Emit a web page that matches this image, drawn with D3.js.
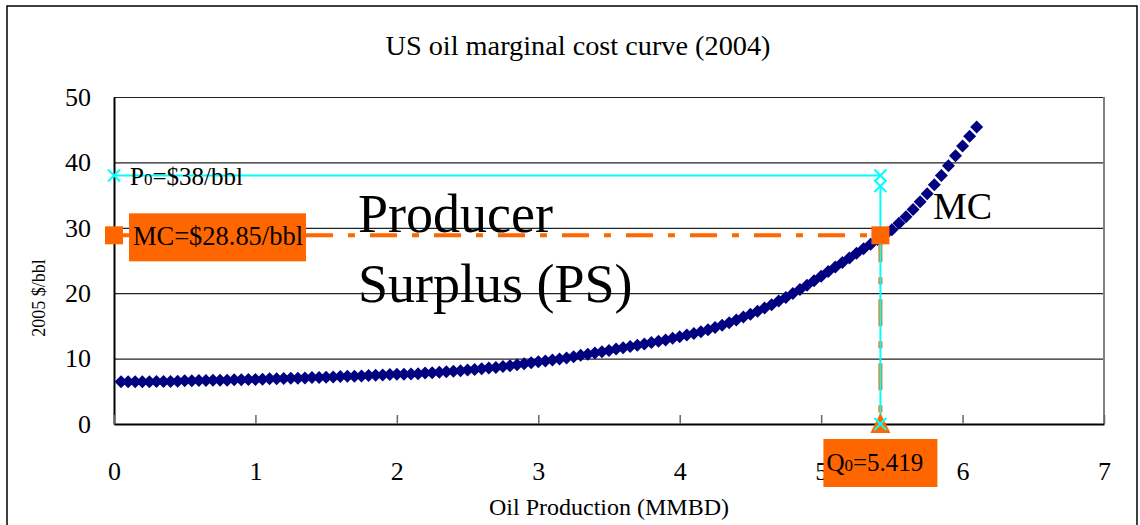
<!DOCTYPE html>
<html lang="en">
<head>
<meta charset="utf-8">
<title>US oil marginal cost curve</title>
<script src="https://d3js.org/d3.v7.min.js"></script>
<style>
  body { margin: 0; background: #fff; }
  text { font-family: "Liberation Serif", "Times New Roman", serif; fill: #000; }
</style>
</head>
<body>
<div id="chart"></div>
<script type="text/javascript">
	// MC curve
	var mcX = [0.05,0.10,0.15,0.20,0.25,0.30,0.35,0.40,0.45,0.50,
		0.55,0.60,0.65,0.70,0.75,0.80,0.85,0.90,0.95,1.00,
		1.05,1.10,1.15,1.20,1.25,1.30,1.35,1.40,1.45,1.50,
		1.55,1.60,1.65,1.70,1.75,1.80,1.85,1.90,1.95,2.00,
		2.05,2.10,2.15,2.20,2.25,2.30,2.35,2.40,2.45,2.50,
		2.55,2.60,2.65,2.70,2.75,2.80,2.85,2.90,2.95,3.00,
		3.05,3.10,3.15,3.20,3.25,3.30,3.35,3.40,3.45,3.50,
		3.55,3.60,3.65,3.70,3.75,3.80,3.85,3.90,3.95,4.00,
		4.05,4.10,4.15,4.20,4.25,4.30,4.35,4.40,4.45,4.50,
		4.55,4.60,4.65,4.70,4.75,4.80,4.85,4.90,4.95,5.00,
		5.05,5.10,5.15,5.20,5.25,5.30,5.35,5.40,5.45,5.50,
		5.55,5.60,5.65,5.70,5.75,5.80,5.85,5.90,5.95,6.00,
		6.05,6.10];
	var mcY = [6.45,6.45,6.45,6.45,6.45,6.50,6.50,6.50,6.55,6.60,
		6.60,6.65,6.65,6.70,6.70,6.70,6.75,6.75,6.80,6.80,
		6.85,6.90,6.90,6.95,7.00,7.00,7.05,7.10,7.10,7.15,
		7.20,7.25,7.30,7.30,7.35,7.40,7.45,7.50,7.55,7.60,
		7.60,7.65,7.70,7.80,7.85,7.90,8.00,8.05,8.15,8.25,
		8.35,8.45,8.55,8.65,8.80,8.90,9.05,9.20,9.35,9.50,
		9.65,9.80,9.95,10.10,10.30,10.50,10.65,10.85,11.05,11.25,
		11.45,11.65,11.85,12.05,12.25,12.45,12.65,12.85,13.10,13.35,
		13.60,13.85,14.10,14.40,14.75,15.10,15.50,15.90,16.35,16.80,
		17.25,17.75,18.25,18.80,19.35,19.95,20.55,21.20,21.90,22.60,
		23.30,24.00,24.70,25.40,26.10,26.80,27.50,28.20,28.90,29.70,
		30.70,31.70,32.80,34.00,35.20,36.60,38.00,39.50,41.00,42.50,
		44.00,45.40];

	// price / quantity guide series
	var priceX = [0, 5.419], priceY = [38, 38];
	var qtyX = [5.419, 5.419], qtyY = [36.4, 0];
	var mcLevelX = [0, 5.419], mcLevelY = [28.85, 28.85];
	var mcDropX = [5.419, 5.419], mcDropY = [28.85, 0];

	var xTicks = [0, 1, 2, 3, 4, 5, 6, 7],
		yTicks = [0, 10, 20, 30, 40, 50];

	var W = 1140, H = 525;
	var margin = {top: 97, right: 36, bottom: 101, left: 114},
		width = W - margin.left - margin.right,
		height = H - margin.top - margin.bottom;

	var svg = d3.select("#chart").append("svg")
		.attr("width", W)
		.attr("height", H);

	// outer frame
	svg.append("rect")
		.attr("x", 7).attr("y", 6)
		.attr("width", 1130).attr("height", 530)
		.attr("fill", "none").attr("stroke", "#000").attr("stroke-width", 1.5);

	svg.append("text")
		.attr("x", 578).attr("y", 55)
		.attr("text-anchor", "middle")
		.attr("textLength", 385).attr("lengthAdjust", "spacingAndGlyphs")
		.style("font-size", "28px")
		.text("US oil marginal cost curve (2004)");

	var g = svg.append("g")
		.attr("transform", "translate(" + margin.left + "," + margin.top + ")");

	var x = d3.scaleLinear().domain([0, 7]).range([0, width]);
	var y = d3.scaleLinear().domain([0, 50]).range([height, 0]);

	// gridlines
	g.append("g")
		.call(d3.axisLeft(y).tickValues(yTicks.slice(1)).tickSize(-width).tickFormat(""))
		.call(function(s){ s.select(".domain").remove(); })
		.selectAll("line").attr("stroke", "#222").attr("stroke-width", 1.2);

	// right edge of plot
	g.append("line")
		.attr("x1", width).attr("x2", width).attr("y1", 0).attr("y2", height)
		.attr("stroke", "#808080").attr("stroke-width", 2);

	// y axis
	var yAxis = g.append("g")
		.call(d3.axisLeft(y).tickValues(yTicks).tickSize(0).tickPadding(23));
	yAxis.select(".domain").attr("stroke", "#000").attr("stroke-width", 2);
	yAxis.selectAll("text").style("font-size", "26px").attr("font-family", null);

	// x axis
	var xAxis = g.append("g")
		.attr("transform", "translate(0," + height + ")")
		.call(d3.axisBottom(x).tickValues(xTicks).tickFormat(d3.format("d"))
			.tickSizeInner(-9).tickSizeOuter(0).tickPadding(38));
	xAxis.select(".domain").attr("stroke", "#000").attr("stroke-width", 2);
	xAxis.selectAll("line").attr("stroke", "#666").attr("stroke-width", 1.5);
	xAxis.selectAll("text").style("font-size", "26px").attr("font-family", null);

	// axis titles
	svg.append("text")
		.attr("x", margin.left + width / 2).attr("y", 515)
		.attr("text-anchor", "middle")
		.style("font-size", "24px")
		.text("Oil Production (MMBD)");
	svg.append("text")
		.attr("transform", "translate(45,298) rotate(-90)")
		.attr("text-anchor", "middle")
		.style("font-size", "18px")
		.text("2005 $/bbl");

	var line = d3.line()
		.x(function(d){ return x(d[0]); })
		.y(function(d){ return y(d[1]); });
	function pairs(xs, ys){ return xs.map(function(v, i){ return [v, ys[i]]; }); }

	// MC curve: diamond markers
	g.append("g").selectAll("path")
		.data(pairs(mcX, mcY))
		.enter().append("path")
		.attr("transform", function(d){ return "translate(" + x(d[0]) + "," + y(d[1]) + ")"; })
		.attr("d", "M0,-6.5L6.5,0L0,6.5L-6.5,0Z")
		.attr("fill", "#000080");

	var orange = "#FF6600", cyan = "#00FFFF";

	// orange dash-dot guides
	g.append("path").datum(pairs(mcLevelX, mcLevelY))
		.attr("d", line).attr("fill", "none")
		.attr("stroke", orange).attr("stroke-width", 4)
		.attr("stroke-dasharray", "27,15,7,15");
	g.append("path").datum(pairs(mcDropX, mcDropY))
		.attr("d", line).attr("fill", "none")
		.attr("stroke", orange).attr("stroke-width", 4)
		.attr("stroke-dasharray", "27,15,7,15");

	// cyan guides
	g.append("path").datum(pairs(priceX, priceY))
		.attr("d", line).attr("fill", "none")
		.attr("stroke", cyan).attr("stroke-width", 2);
	g.append("path").datum(pairs(qtyX, qtyY))
		.attr("d", line).attr("fill", "none")
		.attr("stroke", cyan).attr("stroke-width", 2);

	// orange markers
	g.append("g").selectAll("rect")
		.data(pairs(mcLevelX, mcLevelY))
		.enter().append("rect")
		.attr("x", function(d){ return x(d[0]) - 9; })
		.attr("y", function(d){ return y(d[1]) - 9; })
		.attr("width", 18).attr("height", 18)
		.attr("fill", orange);
	g.append("path")
		.attr("transform", "translate(" + x(mcDropX[1]) + "," + y(mcDropY[1]) + ")")
		.attr("d", "M0,-11L10,9L-10,9Z")
		.attr("fill", orange);

	// cyan x markers
	var crossPts = pairs(priceX, priceY).concat(pairs(qtyX, qtyY));
	g.append("g").selectAll("path")
		.data(crossPts)
		.enter().append("path")
		.attr("transform", function(d){ return "translate(" + x(d[0]) + "," + y(d[1]) + ")"; })
		.attr("d", "M-6,-6L6,6M-6,6L6,-6")
		.attr("stroke", cyan).attr("stroke-width", 2);

	// labels
	var p0 = g.append("text")
		.attr("x", x(0) + 16).attr("y", y(38) + 10)
		.style("font-size", "25px");
	p0.append("tspan").text("P");
	p0.append("tspan").style("font-size", "17px").text("0");
	p0.append("tspan").text("=$38/bbl");

	g.append("rect")
		.attr("x", x(0) + 15).attr("y", y(28.85) - 22)
		.attr("width", 177).attr("height", 48)
		.attr("fill", orange);
	g.append("text")
		.attr("x", x(0) + 19).attr("y", y(28.85) + 10)
		.attr("textLength", 170).attr("lengthAdjust", "spacingAndGlyphs")
		.style("font-size", "27px")
		.text("MC=$28.85/bbl");

	g.append("rect")
		.attr("x", x(5.419) - 57).attr("y", height + 15)
		.attr("width", 114).attr("height", 48)
		.attr("fill", orange);
	var q0 = g.append("text")
		.attr("x", x(5.419) - 54).attr("y", height + 47)
		.style("font-size", "25px");
	q0.append("tspan").text("Q");
	q0.append("tspan").style("font-size", "17px").text("0");
	q0.append("tspan").text("=5.419");

	g.append("text")
		.attr("x", 244).attr("y", 135)
		.style("font-size", "54px")
		.text("Producer");
	g.append("text")
		.attr("x", 244).attr("y", 205)
		.style("font-size", "54px")
		.text("Surplus (PS)");
	g.append("text")
		.attr("x", 819).attr("y", 122)
		.style("font-size", "38px")
		.text("MC");
</script>
</body>
</html>
